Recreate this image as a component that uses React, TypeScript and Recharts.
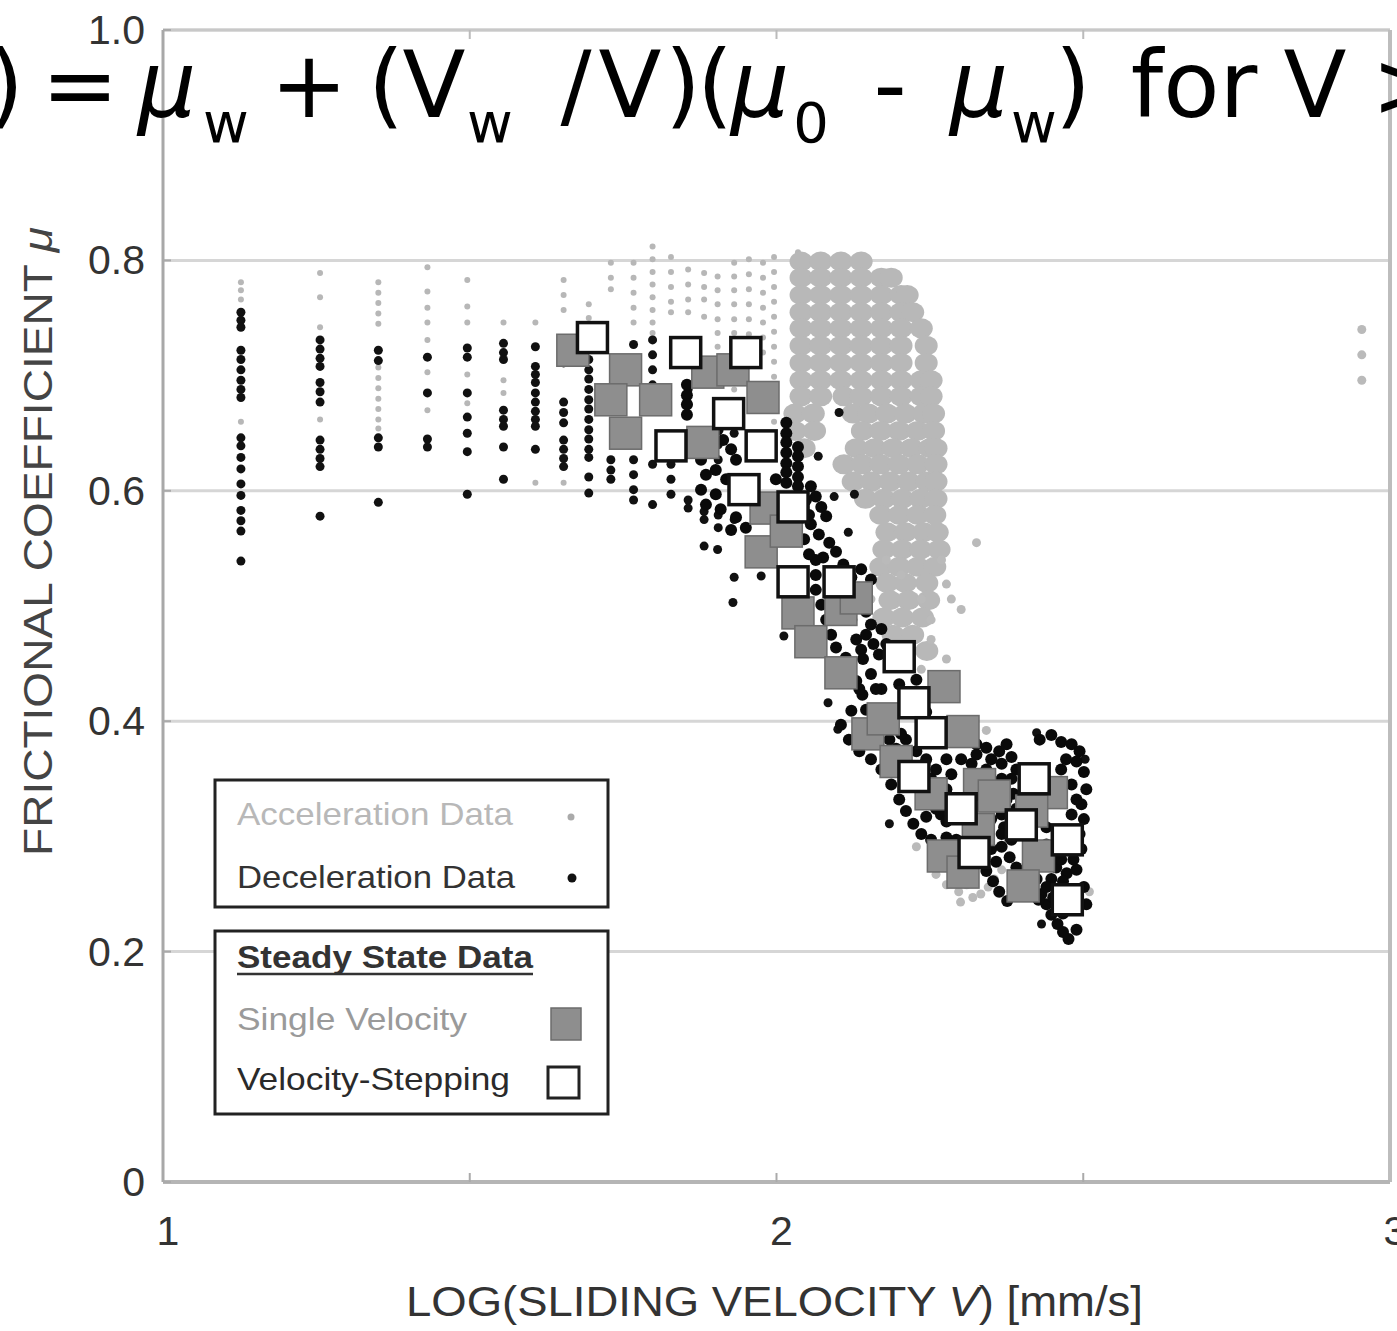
import React from 'react';
import { ScatterChart, Scatter, XAxis, YAxis, CartesianGrid, ReferenceLine } from 'recharts';

const W = 1397;
const H = 1331;
const PLOT_TOP = 30;
const PLOT_BOTTOM = 1182;

const xTicks = [1, 1.5, 2, 2.5, 3];
const yTicks = [0, 0.2, 0.4, 0.6, 0.8, 1.0];
const yTickLabels = ['0', '0.2', '0.4', '0.6', '0.8', '1.0'];

// acceleration data: stepped-velocity columns (x = log V, ys = mu)
const accelColX = [1.127, 1.256, 1.351, 1.431, 1.496, 1.555, 1.607, 1.653, 1.694,
  1.730, 1.767, 1.798, 1.828, 1.856, 1.882, 1.904, 1.931, 1.955, 1.978, 1.996, 2.035];
const accelColY = [
  [0.781, 0.774, 0.766, 0.660],
  [0.789, 0.768, 0.742, 0.662],
  [0.781, 0.772, 0.763, 0.754, 0.745, 0.707, 0.698, 0.689, 0.680, 0.671, 0.662, 0.654],
  [0.794, 0.773, 0.759, 0.746, 0.731, 0.703, 0.670],
  [0.783, 0.760, 0.746, 0.701, 0.676],
  [0.746, 0.696, 0.685],
  [0.746, 0.607],
  [0.783, 0.770, 0.757, 0.607],
  [0.762, 0.750],
  [0.798, 0.785, 0.775],
  [0.798, 0.785, 0.772, 0.759, 0.746],
  [0.812, 0.801, 0.790, 0.779, 0.768, 0.757, 0.746, 0.737],
  [0.803, 0.790, 0.777, 0.764, 0.755],
  [0.792, 0.779, 0.766, 0.755],
  [0.789, 0.777, 0.766, 0.751],
  [0.786, 0.774, 0.762, 0.749, 0.737, 0.725, 0.712],
  [0.798, 0.786, 0.774, 0.762, 0.749, 0.737, 0.725, 0.712, 0.700, 0.688],
  [0.801, 0.788, 0.775, 0.762, 0.749, 0.736, 0.723, 0.712],
  [0.798, 0.785, 0.772, 0.759, 0.746, 0.733, 0.720],
  [0.803, 0.790, 0.777, 0.764, 0.751, 0.738, 0.725, 0.712, 0.699, 0.686, 0.673, 0.660],
  [0.807, 0.794, 0.781, 0.768, 0.755, 0.742],
];

// acceleration data: dense cloud, one row per mu level
const accelCloudY = [0.799, 0.785, 0.770, 0.755, 0.741, 0.726, 0.711, 0.696, 0.682, 0.667,
  0.652, 0.637, 0.623, 0.608, 0.593, 0.579, 0.564, 0.549, 0.534, 0.520, 0.505, 0.490, 0.475, 0.461];
const accelCloudX = [
  [2.040, 2.072, 2.105, 2.138],
  [2.040, 2.072, 2.105, 2.138, 2.171, 2.187],
  [2.040, 2.072, 2.105, 2.138, 2.171, 2.203, 2.213],
  [2.040, 2.072, 2.105, 2.138, 2.171, 2.203, 2.222],
  [2.040, 2.072, 2.105, 2.138, 2.171, 2.203, 2.236],
  [2.040, 2.072, 2.105, 2.138, 2.171, 2.203, 2.244],
  [2.040, 2.072, 2.105, 2.138, 2.171, 2.203, 2.244],
  [2.040, 2.072, 2.105, 2.138, 2.171, 2.203, 2.236, 2.252],
  [2.040, 2.072, 2.110, 2.138, 2.171, 2.203, 2.236, 2.252],
  [2.030, 2.060, 2.125, 2.150, 2.180, 2.210, 2.240, 2.256],
  [2.030, 2.062, 2.140, 2.170, 2.200, 2.230, 2.256],
  [2.045, 2.130, 2.160, 2.190, 2.220, 2.250, 2.260],
  [2.110, 2.140, 2.170, 2.200, 2.230, 2.260],
  [2.125, 2.155, 2.185, 2.215, 2.245, 2.260],
  [2.145, 2.175, 2.205, 2.235, 2.260],
  [2.170, 2.200, 2.230, 2.258],
  [2.180, 2.210, 2.240, 2.262],
  [2.175, 2.205, 2.235, 2.265],
  [2.170, 2.200, 2.230, 2.258],
  [2.180, 2.210, 2.245],
  [2.185, 2.215, 2.248],
  [2.175, 2.205, 2.238],
  [2.190, 2.222],
  [2.205, 2.245],
];

// acceleration data: scattered points
const accelScatter = [
  [2.326, 0.555], [2.269, 0.540], [2.285, 0.506], [2.252, 0.471], [2.236, 0.445], [2.277, 0.454],
  [2.179, 0.540], [2.154, 0.506], [2.342, 0.392], [2.358, 0.367], [2.367, 0.271], [2.277, 0.258],
  [2.297, 0.252], [2.320, 0.247], [2.345, 0.256], [2.260, 0.267], [2.510, 0.252], [2.228, 0.291],
  [2.203, 0.527], [2.236, 0.506], [2.277, 0.519], [2.301, 0.497], [2.252, 0.488],
  [2.287, 0.262], [2.310, 0.258], [2.333, 0.250], [2.300, 0.243], [2.268, 0.275], [2.355, 0.263],
  [2.954, 0.740], [2.954, 0.718], [2.954, 0.696],
];

// deceleration data: stepped-velocity columns
const decelColX = [1.127, 1.256, 1.351, 1.431, 1.496, 1.555, 1.607, 1.653, 1.694,
  1.730, 1.767, 1.798, 1.828, 1.856, 1.882, 1.905, 1.931];
const decelColY = [
  [0.755, 0.748, 0.742, 0.722, 0.714, 0.705, 0.696, 0.688, 0.681, 0.646, 0.639, 0.629, 0.619, 0.606, 0.596, 0.583, 0.574, 0.565, 0.539],
  [0.731, 0.723, 0.715, 0.708, 0.694, 0.686, 0.677, 0.644, 0.636, 0.628, 0.621, 0.578],
  [0.722, 0.713, 0.646, 0.638, 0.590],
  [0.716, 0.685, 0.645, 0.638],
  [0.724, 0.716, 0.685, 0.664, 0.650, 0.634, 0.597],
  [0.728, 0.720, 0.714, 0.670, 0.662, 0.656, 0.638, 0.610],
  [0.725, 0.708, 0.701, 0.694, 0.685, 0.677, 0.669, 0.662, 0.656, 0.636],
  [0.731, 0.724, 0.717, 0.711, 0.677, 0.668, 0.659, 0.644, 0.636, 0.628, 0.621],
  [0.714, 0.705, 0.697, 0.688, 0.679, 0.671, 0.662, 0.653, 0.645, 0.636, 0.629, 0.612, 0.598],
  [0.627, 0.618, 0.610],
  [0.727, 0.714, 0.701, 0.627, 0.614, 0.601, 0.592],
  [0.731, 0.718, 0.705, 0.692, 0.623, 0.588],
  [0.623, 0.610, 0.597],
  [0.688, 0.675, 0.592, 0.585],
  [0.582, 0.575, 0.552],
  [0.666, 0.653, 0.640, 0.627, 0.579, 0.568],
  [0.662, 0.650, 0.575, 0.525],
];

// deceleration data: the weakening band
const decelBand = [
  [1.854, 0.692], [1.854, 0.683], [1.854, 0.675], [1.854, 0.666], [1.904, 0.653], [1.913, 0.644],
  [1.926, 0.636], [1.934, 0.627], [1.901, 0.618], [1.918, 0.610], [1.901, 0.597], [1.909, 0.584],
  [1.934, 0.577], [1.950, 0.568], [1.926, 0.566], [2.016, 0.659], [2.016, 0.650], [2.016, 0.642],
  [2.016, 0.633], [2.016, 0.624], [2.016, 0.616], [2.016, 0.607], [2.035, 0.638], [2.035, 0.630],
  [2.035, 0.621], [2.035, 0.612], [2.035, 0.604], [2.056, 0.604], [2.064, 0.595], [2.073, 0.586],
  [2.081, 0.578], [2.056, 0.571], [2.069, 0.562], [2.086, 0.555], [2.097, 0.547], [2.076, 0.542],
  [2.109, 0.536], [2.122, 0.525], [2.138, 0.514], [2.135, 0.504], [2.146, 0.495], [2.154, 0.484],
  [2.146, 0.475], [2.158, 0.467], [2.167, 0.458], [2.138, 0.462], [2.113, 0.455], [2.004, 0.571],
  [2.064, 0.540], [2.064, 0.527], [2.064, 0.514], [2.073, 0.501], [2.081, 0.488], [2.089, 0.475],
  [2.097, 0.464], [2.113, 0.447], [2.130, 0.435], [2.140, 0.423], [2.122, 0.409], [2.105, 0.397],
  [2.118, 0.384], [2.135, 0.374], [2.154, 0.367], [2.171, 0.358], [2.187, 0.345], [2.200, 0.332],
  [2.211, 0.322], [2.223, 0.311], [2.236, 0.302], [2.252, 0.297], [2.277, 0.299], [2.293, 0.297],
  [2.211, 0.384], [2.228, 0.374], [2.244, 0.367], [2.260, 0.358], [2.277, 0.367], [2.285, 0.354],
  [2.268, 0.319], [2.244, 0.317], [2.277, 0.313], [2.171, 0.428], [2.200, 0.432], [2.228, 0.436],
  [2.244, 0.408], [2.326, 0.380], [2.342, 0.377], [2.363, 0.374], [2.383, 0.369], [2.375, 0.380],
  [2.429, 0.384], [2.448, 0.388], [2.464, 0.382], [2.481, 0.380], [2.494, 0.374], [2.489, 0.365],
  [2.501, 0.356], [2.505, 0.341], [2.497, 0.328], [2.391, 0.358], [2.367, 0.350], [2.375, 0.332],
  [2.367, 0.319], [2.371, 0.308], [2.383, 0.297], [2.367, 0.291], [2.380, 0.282], [2.391, 0.273],
  [2.358, 0.278], [2.342, 0.270], [2.353, 0.261], [2.363, 0.252], [2.376, 0.244], [2.440, 0.308],
  [2.456, 0.273], [2.473, 0.268], [2.489, 0.271], [2.467, 0.261], [2.432, 0.250], [2.440, 0.241],
  [2.448, 0.232], [2.458, 0.224], [2.467, 0.217], [2.476, 0.211], [2.489, 0.219], [2.467, 0.233],
  [2.505, 0.241], [2.501, 0.256], [2.501, 0.315],
  [2.122, 0.488], [2.130, 0.471], [2.141, 0.454], [2.154, 0.441], [2.162, 0.428], [2.135, 0.428],
  [2.146, 0.410], [2.162, 0.397], [2.184, 0.384], [2.195, 0.376], [2.203, 0.389], [2.211, 0.367],
  [2.233, 0.358], [2.252, 0.350], [2.277, 0.341], [2.293, 0.332], [2.277, 0.328], [2.260, 0.324],
  [2.342, 0.358], [2.350, 0.367], [2.367, 0.363], [2.383, 0.350], [2.386, 0.337], [2.391, 0.324],
  [2.350, 0.315], [2.342, 0.297], [2.350, 0.289], [2.367, 0.302], [2.440, 0.293], [2.451, 0.280],
  [2.464, 0.280], [2.484, 0.280], [2.497, 0.289], [2.494, 0.302], [2.448, 0.263], [2.440, 0.256],
  [2.424, 0.263], [2.427, 0.245], [2.451, 0.247], [2.472, 0.367], [2.464, 0.358], [2.481, 0.345],
  [2.489, 0.332], [2.481, 0.319], [2.301, 0.367], [2.318, 0.363], [2.326, 0.371], [1.999, 0.610],
  [2.048, 0.592], [2.053, 0.579], [2.045, 0.558], [2.053, 0.545], [1.877, 0.627], [1.885, 0.614],
  [1.877, 0.601], [1.885, 0.588], [2.138, 0.532], [2.154, 0.523], [2.171, 0.480], [2.179, 0.467],
];

// deceleration data: isolated points off the band
const decelStray = [
  [2.102, 0.668], [2.068, 0.630], [2.094, 0.595], [2.127, 0.597], [2.117, 0.564], [1.904, 0.549],
  [1.929, 0.503], [1.975, 0.526], [2.012, 0.474], [2.084, 0.416], [2.184, 0.311], [2.100, 0.393],
  [2.424, 0.390], [2.503, 0.367], [2.432, 0.224],
];

// steady state: single velocity runs
const singleVelocity = [
  [1.668, 0.722], [1.754, 0.705], [1.730, 0.679], [1.754, 0.650], [1.803, 0.679], [1.888, 0.703],
  [1.929, 0.705], [1.978, 0.681], [1.880, 0.642], [1.983, 0.585], [1.975, 0.547], [2.016, 0.565],
  [2.035, 0.494], [2.056, 0.469], [2.105, 0.497], [2.130, 0.507], [2.105, 0.442], [2.149, 0.389],
  [2.174, 0.402], [2.273, 0.430], [2.304, 0.391], [2.195, 0.365], [2.252, 0.337], [2.331, 0.345],
  [2.355, 0.335], [2.329, 0.306], [2.448, 0.338], [2.416, 0.322], [2.272, 0.283], [2.427, 0.283],
  [2.304, 0.269], [2.402, 0.257],
];

// steady state: velocity stepping
const velocityStepping = [
  [1.700, 0.733], [1.852, 0.720], [1.950, 0.720], [1.922, 0.667], [1.828, 0.639], [1.975, 0.639],
  [1.947, 0.601], [2.027, 0.586], [2.027, 0.521], [2.102, 0.521], [2.200, 0.456], [2.224, 0.416],
  [2.252, 0.390], [2.224, 0.352], [2.301, 0.324], [2.322, 0.286], [2.420, 0.350], [2.399, 0.310],
  [2.474, 0.297], [2.474, 0.245],
];

const fromColumns = (xs: number[], ys: number[][]) => xs.flatMap((x, i) => ys[i].map((y) => ({ x, y })));
const fromRows = (ys: number[], xs: number[][]) => ys.flatMap((y, i) => xs[i].map((x) => ({ x, y })));
const fromPairs = (arr: number[][]) => arr.map(([x, y]) => ({ x, y }));

const accelColData = fromColumns(accelColX, accelColY);
const accelCloudData = fromRows(accelCloudY, accelCloudX);
const accelScatterData = fromPairs(accelScatter);
const decelColData = [...fromColumns(decelColX, decelColY), ...fromPairs(decelStray)];
const decelBandData = fromPairs(decelBand);
const singleData = fromPairs(singleVelocity);
const steppingData = fromPairs(velocityStepping);

const FONT = '"Liberation Sans", Arial, sans-serif';

const XTick = ({ x, payload }: any) => {
  const v = payload.value;
  return (
    <g>
      {v > 1 && v < 3 && (
        <>
          <line x1={x} x2={x} y1={PLOT_BOTTOM} y2={PLOT_BOTTOM - 9} stroke="#aaa" strokeWidth={2} />
          <line x1={x} x2={x} y1={PLOT_TOP} y2={PLOT_TOP + 9} stroke="#bbb" strokeWidth={2} />
        </>
      )}
      {Number.isInteger(v) && (
        <text x={x + 5} y={PLOT_BOTTOM + 63} textAnchor="middle" fontSize={41} fontFamily={FONT} fill="#333">
          {String(v)}
        </text>
      )}
    </g>
  );
};

const YTick = ({ y, payload }: any) => (
  <g>
    <line x1={163} x2={171} y1={y} y2={y} stroke="#aaa" strokeWidth={2} />
    <text x={145} y={y + 14} textAnchor="end" fontSize={41} fontFamily={FONT} fill="#333">
      {yTickLabels[yTicks.indexOf(payload.value)]}
    </text>
  </g>
);

const accelDot = (p: any) => <circle cx={p.cx} cy={p.cy} r={3} fill="#b7b7b7" />;
const accelBlob = (p: any) => <ellipse cx={p.cx} cy={p.cy} rx={11.5} ry={10} fill="#b8b8b8" />;
const accelSpot = (p: any) => <circle cx={p.cx} cy={p.cy} r={4.5} fill="#bababa" />;
const decelDot = (p: any) => <circle cx={p.cx} cy={p.cy} r={4.5} fill="#111" />;
const decelBlob = (p: any) => <circle cx={p.cx} cy={p.cy} r={6} fill="#0a0a0a" />;
const greySquare = (p: any) => (
  <rect x={p.cx - 16} y={p.cy - 16} width={32} height={32} fill="#8e8e8e" stroke="#6c6c6c" strokeWidth={1.5} />
);
const openSquare = (p: any) => (
  <rect x={p.cx - 15} y={p.cy - 15} width={30} height={30} fill="#fff" stroke="#111" strokeWidth={3.5} />
);

function Overlay() {
  const main = { fontSize: 92, fontFamily: '"DejaVu Sans", sans-serif', fill: '#000', textAnchor: 'middle' as const };
  const sub = { ...main, fontSize: 56 };
  const formula: [number, string, boolean][] = [
    [6, ')', false], [80, '=', false], [167, 'μ', false], [226, 'w', true], [309, '+', false],
    [386, '(', false], [434, 'V', false], [490, 'w', true], [576, '/', false], [630, 'V', false],
    [683, ')', false], [715, '(', false], [760, 'μ', false], [811, '0', true], [890, '-', false],
    [979, 'μ', false], [1034, 'w', true], [1073, ')', false], [1194, 'for', false], [1315, 'V', false],
    [1410, '>', false],
  ];
  return (
    <svg width={W} height={H} style={{ position: 'absolute', left: 0, top: 0, pointerEvents: 'none' }}>
      {formula.map(([cx, t, isSub], i) => (
        <text key={i} x={cx} y={isSub ? 142 : 117} {...(isSub ? sub : main)}
          fontStyle={t === 'μ' ? 'italic' : undefined}>{t}</text>
      ))}

      <text x={406} y={1316} fontSize={42} fontFamily={FONT} fill="#333" textLength={737} lengthAdjust="spacingAndGlyphs">
        LOG(SLIDING VELOCITY <tspan fontStyle="italic">V</tspan>) [mm/s]
      </text>
      <text x={52} y={856} transform="rotate(-90 52 856)" fontSize={40} fontFamily={FONT} fill="#444"
        textLength={629} lengthAdjust="spacingAndGlyphs">
        FRICTIONAL COEFFICIENT <tspan fontStyle="italic">μ</tspan>
      </text>

      <rect x={215} y={780} width={393} height={127} fill="#fff" stroke="#222" strokeWidth={3} />
      <text x={237} y={825} fontSize={32} fontFamily={FONT} fill="#b8b8b8" textLength={276} lengthAdjust="spacingAndGlyphs">Acceleration Data</text>
      <circle cx={571} cy={817} r={3.5} fill="#aaa" />
      <text x={237} y={888} fontSize={32} fontFamily={FONT} fill="#333" textLength={278} lengthAdjust="spacingAndGlyphs">Deceleration Data</text>
      <circle cx={572} cy={878} r={4.5} fill="#111" />

      <rect x={215} y={931} width={393} height={183} fill="#fff" stroke="#222" strokeWidth={3} />
      <text x={237} y={968} fontSize={32} fontWeight="bold" fontFamily={FONT} fill="#333" textLength={296} lengthAdjust="spacingAndGlyphs">Steady State Data</text>
      <line x1={237} x2={533} y1={974} y2={974} stroke="#333" strokeWidth={2.5} />
      <text x={237} y={1030} fontSize={32} fontFamily={FONT} fill="#9a9a9a" textLength={230} lengthAdjust="spacingAndGlyphs">Single Velocity</text>
      <rect x={551} y={1008} width={30} height={32} fill="#8e8e8e" stroke="#6c6c6c" strokeWidth={1.5} />
      <text x={237} y={1090} fontSize={32} fontFamily={FONT} fill="#2a2a2a" textLength={273} lengthAdjust="spacingAndGlyphs">Velocity-Stepping</text>
      <rect x={548} y={1067} width={31} height={31} fill="#fff" stroke="#222" strokeWidth={3} />
    </svg>
  );
}

export default function App() {
  return (
    <div style={{ position: 'relative', width: W, height: H, background: '#fff' }}>
      <style>{'body{margin:0;background:#fff}'}</style>
      <ScatterChart width={W} height={H} margin={{ top: PLOT_TOP, right: 7, bottom: 89, left: 83 }}>
        <CartesianGrid horizontal vertical={false} stroke="#d6d6d6" strokeWidth={3} />
        <XAxis
          type="number"
          dataKey="x"
          domain={[1, 3]}
          ticks={xTicks}
          allowDataOverflow
          height={60}
          tickLine={false}
          axisLine={{ stroke: '#b5b5b5', strokeWidth: 4 }}
          tick={(p: any) => <XTick {...p} />}
          interval={0}
        />
        <YAxis
          type="number"
          dataKey="y"
          domain={[0, 1]}
          ticks={yTicks}
          allowDataOverflow
          width={80}
          tickLine={false}
          axisLine={{ stroke: '#a8a8a8', strokeWidth: 3 }}
          tick={(p: any) => <YTick {...p} />}
          interval={0}
        />
        <ReferenceLine y={1} stroke="#c8c8c8" strokeWidth={3} />
        <ReferenceLine x={3} stroke="#bdbdbd" strokeWidth={4} />
        <Scatter data={accelColData} shape={accelDot} isAnimationActive={false} />
        <Scatter data={accelCloudData} shape={accelBlob} isAnimationActive={false} />
        <Scatter data={accelScatterData} shape={accelSpot} isAnimationActive={false} />
        <Scatter data={decelColData} shape={decelDot} isAnimationActive={false} />
        <Scatter data={decelBandData} shape={decelBlob} isAnimationActive={false} />
        <Scatter data={singleData} shape={greySquare} isAnimationActive={false} />
        <Scatter data={steppingData} shape={openSquare} isAnimationActive={false} />
      </ScatterChart>
      <Overlay />
    </div>
  );
}
